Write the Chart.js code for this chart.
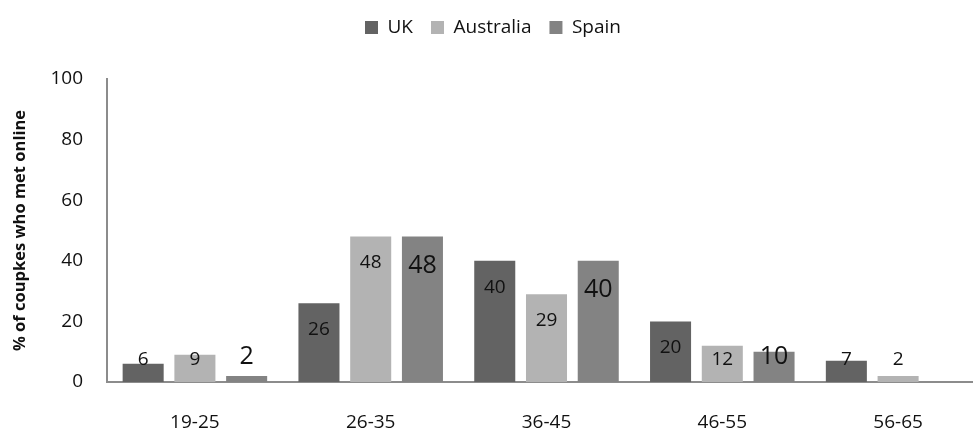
<!DOCTYPE html>
<html>
<head>
<meta charset="utf-8">
<script src="https://cdn.jsdelivr.net/npm/chart.js@4.4.1/dist/chart.umd.min.js"></script>
<style>
  html, body { margin: 0; padding: 0; background: #fff; overflow: hidden; }
  #wrap { width: 1002px; height: 430px; }
</style>
</head>
<body>
<div id="wrap"><canvas id="onlineChart" width="1002" height="430"></canvas></div>
<script>
// Age groups and share of couples who met online, per country
const ageGroups = ['19-25', '26-35', '36-45', '46-55', '56-65'];
const ukValues = [6, 26, 40, 20, 7];
const australiaValues = [9, 48, 29, 12, 2];
const spainValues = [2, 48, 40, 10, null];
const yTicks = [0, 20, 40, 60, 80, 100];

const FONT = "'Open Sans', sans-serif";

// Value labels drawn just inside the top of each bar,
// pushed up to a minimum height when the bar is too short
const barLabels = {
    id: 'barLabels',
    afterDatasetsDraw(chart) {
        const ctx = chart.ctx;
        const yScale = chart.scales.y;
        chart.data.datasets.forEach((ds, i) => {
            const meta = chart.getDatasetMeta(i);
            const big = ds.label === 'Spain';
            const offset = big ? 29 : 26.5;
            const floorY = yScale.getPixelForValue(big ? 8.4 : 7.5);
            ctx.save();
            ctx.font = (big ? '25px ' : '19px ') + FONT;
            ctx.fillStyle = '#111';
            ctx.textAlign = 'center';
            ctx.textBaseline = 'middle';
            meta.data.forEach((bar, j) => {
                const v = ds.data[j];
                if (v === null || v === undefined) return;
                const y = Math.min(bar.y + offset, floorY);
                ctx.fillText(String(v), bar.x, y);
            });
            ctx.restore();
        });
    }
};

// Extra room between the legend and the plot
const legendGap = {
    id: 'legendGap',
    beforeInit(chart) {
        const fit = chart.legend.fit;
        chart.legend.fit = function () {
            fit.call(this);
            this.height += 32;
        };
    }
};

const ctx = document.getElementById('onlineChart').getContext('2d');
new Chart(ctx, {
    type: 'bar',
    data: {
        labels: ageGroups,
        datasets: [
            { label: 'UK', data: ukValues, backgroundColor: '#636363' },
            { label: 'Australia', data: australiaValues, backgroundColor: '#b3b3b3' },
            { label: 'Spain', data: spainValues, backgroundColor: '#838383' }
        ]
    },
    options: {
        responsive: false,
        animation: false,
        events: [],
        categoryPercentage: 0.883,
        barPercentage: 0.793,
        layout: { padding: { top: 0, right: 16, bottom: 0, left: 0 } },
        plugins: {
            legend: {
                position: 'top',
                labels: {
                    boxWidth: 13,
                    boxHeight: 13,
                    padding: 18,
                    color: '#111',
                    font: { family: FONT, size: 19 }
                }
            },
            tooltip: { enabled: false }
        },
        scales: {
            x: {
                grid: { display: false, drawTicks: false },
                border: { display: true, color: '#8c8c8c', width: 2 },
                ticks: { color: '#111', padding: 29, font: { family: FONT, size: 19 } },
                afterFit: scale => { scale.height = 48; }
            },
            y: {
                min: 0,
                max: 100,
                afterBuildTicks: scale => { scale.ticks = yTicks.map(v => ({ value: v })); },
                grid: { display: false, drawTicks: false },
                border: { display: true, color: '#8c8c8c', width: 2 },
                ticks: { color: '#111', padding: 24, font: { family: FONT, size: 19 } },
                title: {
                    display: true,
                    text: '% of coupkes who met online',
                    color: '#111',
                    padding: { top: 10, bottom: 4 },
                    font: { family: FONT, size: 16.5, weight: 'bold' }
                },
                afterFit: scale => { scale.width = 107; }
            }
        }
    },
    plugins: [barLabels, legendGap]
});
</script>
</body>
</html>
